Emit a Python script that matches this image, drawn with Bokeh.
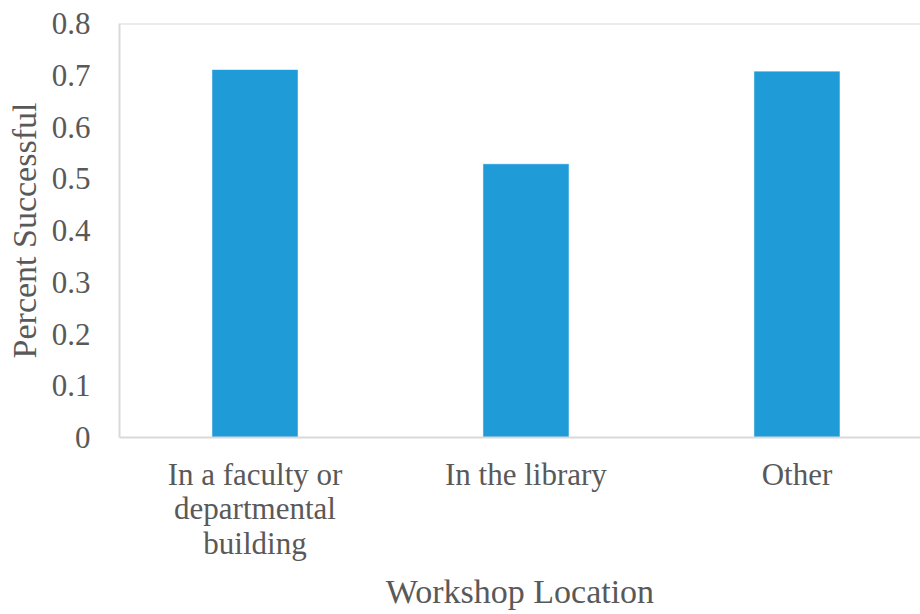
from bokeh.plotting import figure
from bokeh.models import Range1d, FixedTicker, Span, CustomJSTickFormatter, ColumnDataSource
from bokeh.embed import file_html
from bokeh.resources import INLINE

# Data
categories = ["In a faculty or\ndepartmental\nbuilding", "In the library", "Other"]
percent_successful = [0.71, 0.528, 0.707]
y_ticks = [0, 0.1, 0.2, 0.3, 0.4, 0.5, 0.6, 0.7, 0.8]

FONT = "Liberation Serif"
TEXT = "#595959"
GRID = "#d9d9d9"
BAR = "#1f9bd8"

positions = list(range(len(categories)))
src = ColumnDataSource(dict(x=positions, top=percent_successful))

p = figure(width=920, height=614, output_backend="svg", toolbar_location=None,
           x_range=Range1d(-0.5, 2.456), y_range=Range1d(0, 0.8))
p.min_border_left = 119
p.min_border_top = 23
p.min_border_bottom = 177
p.min_border_right = 0
p.outline_line_color = None
p.background_fill_color = "white"
p.border_fill_color = "white"

p.vbar(x="x", top="top", width=0.314, bottom=0, source=src,
       fill_color=BAR, line_color=BAR, line_width=0.5)

p.xgrid.visible = False
p.ygrid.visible = False

# x axis
xa = p.xaxis[0]
xa.ticker = FixedTicker(ticks=positions)
xa.major_label_overrides = {i: c for i, c in zip(positions, categories)}
xa.major_tick_line_color = None
xa.minor_tick_line_color = None
xa.axis_line_color = GRID
xa.axis_line_width = 2
xa.major_label_text_font = FONT
xa.major_label_text_font_size = "31px"
xa.major_label_text_line_height = 0.99
xa.major_label_text_color = TEXT
xa.major_label_standoff = 13
xa.axis_label = "Workshop Location"
xa.axis_label_text_font = FONT
xa.axis_label_text_font_size = "34px"
xa.axis_label_text_line_height = 1.0
xa.axis_label_text_font_style = "normal"
xa.axis_label_text_color = TEXT
xa.axis_label_standoff = 9

# y axis
ya = p.yaxis[0]
ya.ticker = FixedTicker(ticks=y_ticks)
ya.formatter = CustomJSTickFormatter(code="return tick == 0 ? '0' : tick.toFixed(1);")
ya.major_tick_line_color = None
ya.minor_tick_line_color = None
ya.axis_line_color = GRID
ya.axis_line_width = 2
ya.major_label_text_font = FONT
ya.major_label_text_font_size = "31px"
ya.major_label_text_color = TEXT
ya.major_label_standoff = 23
ya.axis_label = "Percent Successful"
ya.axis_label_text_font = FONT
ya.axis_label_text_font_size = "34px"
ya.axis_label_text_font_style = "normal"
ya.axis_label_text_color = TEXT
ya.axis_label_standoff = 6

p.add_layout(Span(location=0.8, dimension="width", line_color=GRID, line_width=2))

open("out.html", "w").write(file_html(p, INLINE))
